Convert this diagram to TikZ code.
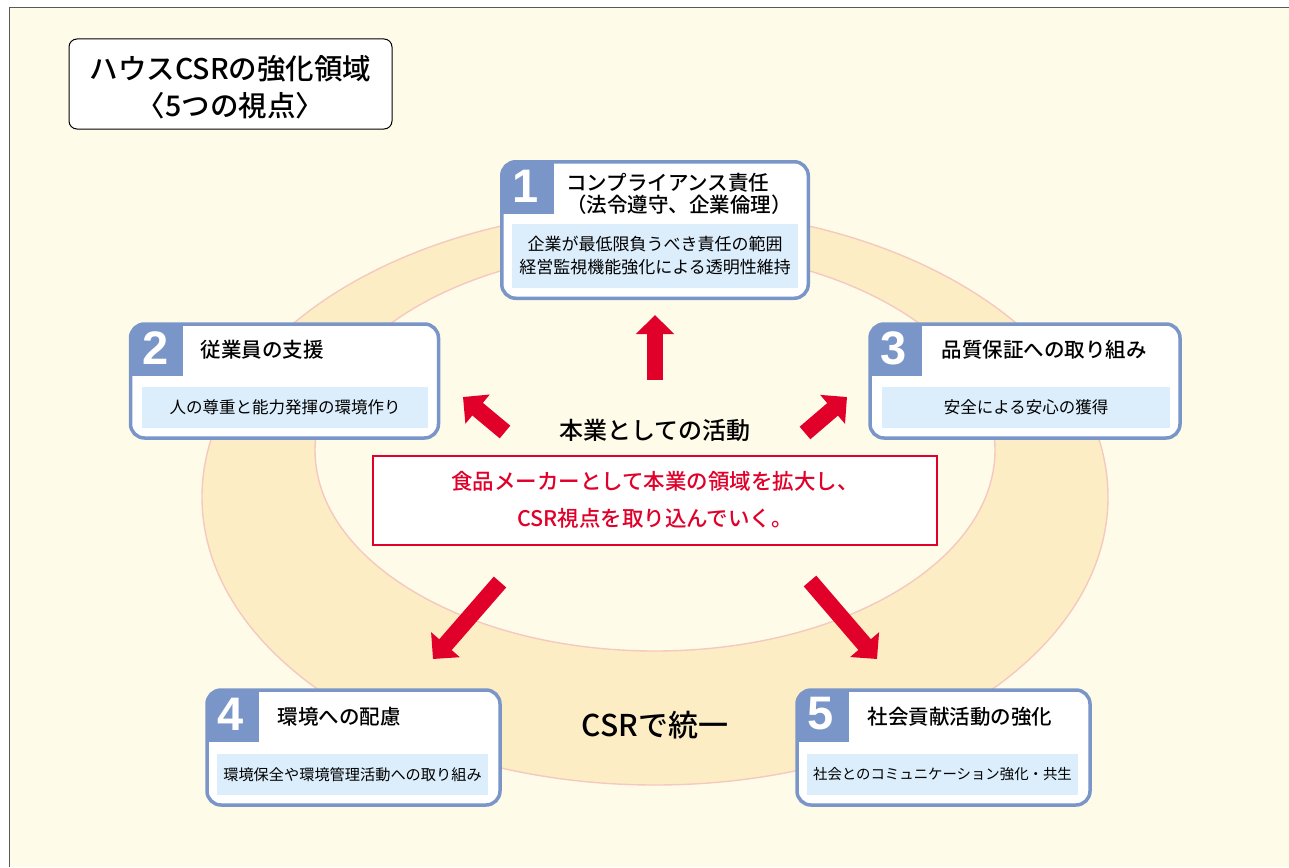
\documentclass[tikz,border=0pt]{standalone}
\usepackage{fontspec}
\setmainfont{Noto Sans CJK JP}
\newfontfamily\jpmed{Noto Sans CJK JP Medium}
\newfontfamily\numfont{Liberation Sans Bold}
\usetikzlibrary{arrows.meta}

\definecolor{bgcream}{HTML}{FFFBE9}
\definecolor{ringfill}{HTML}{FDEDC4}
\definecolor{ringedge}{HTML}{F6C9C0}
\definecolor{boxblue}{HTML}{7A96C9}
\definecolor{paleblue}{HTML}{DCEDFB}
\definecolor{redmark}{HTML}{E1002A}

\newcommand{\fsz}[1]{\fontsize{#1}{#1}\selectfont}

\tikzset{
  card/.style={draw=boxblue, line width=3.5pt, rounded corners=14pt, fill=white,
    inner sep=0pt,
    path picture={\fill[boxblue, sharp corners] (path picture bounding box.north west) rectangle ++(52pt,-52pt);}},
  numlabel/.style={text=white, font=\numfont\fsz{47}, inner sep=0pt},
  cardtitle/.style={font=\jpmed\fsz{20.5}, inner sep=0pt, align=left},
  detail/.style={fill=paleblue, inner sep=0pt, align=center},
  bigarrow/.style={draw=redmark, line width=16.5pt, -{Triangle[width=37pt,length=19pt]}},
}

\begin{document}
\begin{tikzpicture}[x=1pt, y=-1pt]
\useasboundingbox (0,0) rectangle (1289,867);

% page and frame
\fill[white] (0,0) rectangle (1289,867);
\fill[bgcream] (9,8) rectangle (1289,867);
\draw[black!65, line width=1pt] (9,867) -- (9,8) -- (1289,8);

% the ring
\fill[ringfill, even odd rule]
  (655,497) ellipse [x radius=453pt, y radius=288pt]
  (655,450) ellipse [x radius=340pt, y radius=201pt];
\draw[ringedge, line width=1.4pt] (655,497) ellipse [x radius=453pt, y radius=288pt];
\draw[ringedge, line width=1.4pt] (655,450) ellipse [x radius=340pt, y radius=201pt];

% heading
\node[draw=black, line width=1pt, fill=white, rounded corners=8pt,
      minimum width=323pt, minimum height=90pt, inner sep=0pt] (head) at (230.5,84) {};
\node[font=\jpmed\fsz{28.5}, align=center, inner sep=0pt] (headtext) at (230.5,87)
  {ハウスCSRの強化領域\\[9pt]〈5つの視点〉};

% card 1
\node[card, minimum width=306.5pt, minimum height=136.5pt] (c1) at (655,230) {};
\node[numlabel] (n1) at (526,186) {1};
\node[cardtitle, anchor=west] (t1) at (566,194)
  {コンプライアンス責任\\[2pt]（法令遵守、企業倫理）};
\node[detail, minimum width=286pt, minimum height=64pt, font=\fsz{17}] (d1) at (655,256)
  {企業が最低限負うべき責任の範囲\\[6pt]経営監視機能強化による透明性維持};

% card 2
\node[card, minimum width=308pt, minimum height=114pt] (c2) at (284.5,381) {};
\node[numlabel] (n2) at (156,348) {2};
\node[cardtitle] (t2) at (262,350) {従業員の支援};
\node[detail, minimum width=286pt, minimum height=41pt, font=\fsz{16.5}] (d2) at (285,407.5)
  {人の尊重と能力発揮の環境作り};

% card 3
\node[card, minimum width=310pt, minimum height=114pt] (c3) at (1025,381) {};
\node[numlabel] (n3) at (894,348) {3};
\node[cardtitle] (t3) at (1044,350) {品質保証への取り組み};
\node[detail, minimum width=288pt, minimum height=41pt, font=\fsz{16.5}] (d3) at (1026,407.5)
  {安全による安心の獲得};

% card 4
\node[card, minimum width=293pt, minimum height=115pt] (c4) at (353.5,747.5) {};
\node[numlabel] (n4) at (231,714) {4};
\node[cardtitle] (t4) at (339,717) {環境への配慮};
\node[detail, minimum width=271pt, minimum height=41pt, font=\fsz{15.2}] (d4) at (352.5,774.5)
  {環境保全や環境管理活動への取り組み};

% card 5
\node[card, minimum width=293pt, minimum height=115pt] (c5) at (943.5,747.5) {};
\node[numlabel] (n5) at (821,714) {5};
\node[cardtitle] (t5) at (960,717) {社会貢献活動の強化};
\node[detail, minimum width=271pt, minimum height=41pt, font=\fsz{14.4}] (d5) at (942.5,774.5)
  {社会とのコミュニケーション強化・共生};

% centre messages
\node[font=\jpmed\fsz{24}, inner sep=0pt] (core) at (655,430) {本業としての活動};
\node[draw=redmark, line width=2pt, fill=white, minimum width=564pt, minimum height=89pt,
      inner sep=0pt, text=redmark, font=\jpmed\fsz{21.5}, align=center] (msg) at (655,500)
  {食品メーカーとして本業の領域を拡大し、\\[15pt]CSR視点を取り込んでいく。};
\node[font=\jpmed\fsz{30}, inner sep=0pt] (unify) at (655,725) {CSRで統一};

% arrow anchors
\coordinate (a1s) at (655,380);  \coordinate (a1e) at (655,315);
\coordinate (a2s) at (505,432);  \coordinate (a2e) at (463,397);
\coordinate (a3s) at (805,433);  \coordinate (a3e) at (847,397);
\coordinate (a4s) at (500,582);  \coordinate (a4e) at (433,659);
\coordinate (a5s) at (810,581);  \coordinate (a5e) at (877,659);

\draw[bigarrow] (a1s) -- (a1e);
\draw[bigarrow] (a2s) -- (a2e);
\draw[bigarrow] (a3s) -- (a3e);
\draw[bigarrow] (a4s) -- (a4e);
\draw[bigarrow] (a5s) -- (a5e);
\end{tikzpicture}
\end{document}
